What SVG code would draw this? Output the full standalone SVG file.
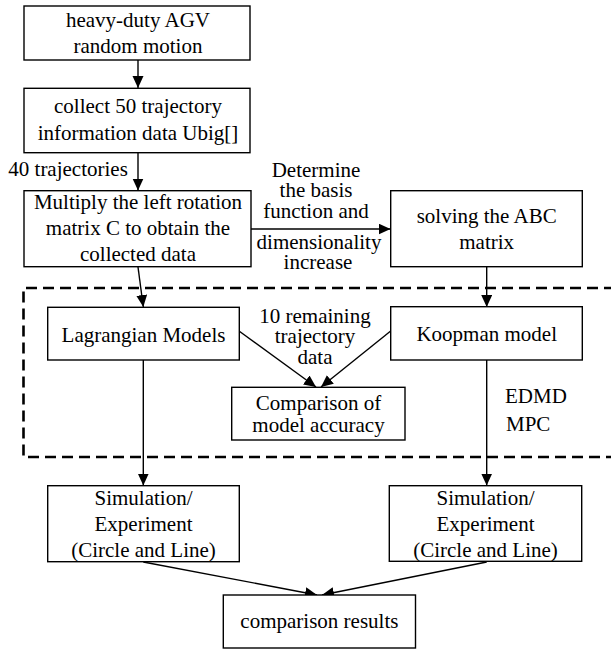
<svg xmlns="http://www.w3.org/2000/svg" width="611" height="650" viewBox="0 0 611 650">
<defs>
<marker id="arr" markerUnits="userSpaceOnUse" markerWidth="13" markerHeight="12" refX="12" refY="5.5" orient="auto">
<path d="M0,0 L12,5.5 L0,11 Z" fill="#000"/>
</marker>
</defs>
<style>
text{font-family:"Liberation Serif","Times New Roman",serif;font-size:21px;fill:#000}
.c{text-anchor:middle}
.box{fill:#fff;stroke:#000;stroke-width:1.4}
.ln{fill:none;stroke:#000;stroke-width:1.4}
.ar{fill:none;stroke:#000;stroke-width:1.4;marker-end:url(#arr)}
.dash{fill:none;stroke:#000;stroke-width:2.6;stroke-dasharray:11 6}
</style>
<rect width="611" height="650" fill="#fff"/>
<path class="dash" d="M615,288 H23.5 V457 H615"/>
<g id="connectors">
<line class="ar" x1="138" y1="60" x2="138" y2="88"/>
<line class="ar" x1="138" y1="153" x2="138" y2="190.5"/>
<line class="ar" x1="250" y1="229" x2="390.5" y2="229"/>
<line class="ar" x1="138" y1="267" x2="143.3" y2="307"/>
<line class="ar" x1="486.7" y1="267" x2="486.7" y2="307"/>
<line class="ar" x1="239" y1="331" x2="316" y2="387"/>
<line class="ar" x1="390.7" y1="331" x2="321" y2="387"/>
<line class="ar" x1="143.3" y1="360" x2="143.3" y2="485.5"/>
<line class="ar" x1="486.7" y1="360" x2="486.7" y2="485.5"/>
<line class="ar" x1="143.3" y1="562" x2="317" y2="595"/>
<line class="ar" x1="486.7" y1="562" x2="322" y2="595"/>
</g>
<g id="n1">
<rect class="box" x="24" y="6" width="226" height="54"/>
<text class="c" x="138" y="27.3">heavy-duty AGV</text>
<text class="c" x="138" y="53.3">random motion</text>
</g>
<g id="n2">
<rect class="box" x="24" y="88.3" width="226" height="64.4"/>
<text class="c" x="138" y="113.3">collect 50 trajectory</text>
<text class="c" x="138" y="140">information data Ubig[]</text>
</g>
<g id="l40">
<text x="8.3" y="176">40 trajectories</text>
</g>
<g id="n3">
<rect class="box" x="24" y="190.7" width="227" height="76"/>
<text class="c" x="138" y="209.3">Multiply the left rotation</text>
<text class="c" x="138" y="235">matrix C to obtain the</text>
<text class="c" x="138" y="260.7">collected data</text>
</g>
<g id="lbasis">
<text class="c" x="316" y="176.7">Determine</text>
<text class="c" x="316" y="196.7">the basis</text>
<text class="c" x="316" y="217.7">function and</text>
<text class="c" x="319" y="249.3">dimensionality</text>
<text class="c" x="318" y="269.3">increase</text>
</g>
<g id="n4">
<rect class="box" x="390.7" y="190.7" width="191.6" height="76"/>
<text class="c" x="486.7" y="223.3">solving the ABC</text>
<text class="c" x="486.7" y="248.7">matrix</text>
</g>
<g id="n5">
<rect class="box" x="47.7" y="307.3" width="191.6" height="52.7"/>
<text class="c" x="143.5" y="341.7">Lagrangian Models</text>
</g>
<g id="n6">
<rect class="box" x="390.7" y="306.7" width="191.6" height="53.3"/>
<text class="c" x="486.7" y="340.7">Koopman model</text>
</g>
<g id="l10">
<text class="c" x="315" y="322.7">10 remaining</text>
<text class="c" x="315" y="342.7">trajectory</text>
<text class="c" x="315" y="364">data</text>
</g>
<g id="n7">
<rect class="box" x="231.7" y="387.3" width="173.3" height="52.7"/>
<text class="c" x="318.5" y="410">Comparison of</text>
<text class="c" x="318.5" y="431.7">model accuracy</text>
</g>
<g id="ledmd">
<text x="505" y="402.7">EDMD</text>
<text x="506" y="430.7">MPC</text>
</g>
<g id="n8">
<rect class="box" x="47.7" y="485.7" width="191.6" height="76"/>
<text class="c" x="143.5" y="505">Simulation/</text>
<text class="c" x="143.5" y="531">Experiment</text>
<text class="c" x="143.5" y="556.7">(Circle and Line)</text>
</g>
<g id="n9">
<rect class="box" x="389.3" y="485.7" width="192.4" height="75.6"/>
<text class="c" x="485.5" y="505">Simulation/</text>
<text class="c" x="485.5" y="531">Experiment</text>
<text class="c" x="485.5" y="556.7">(Circle and Line)</text>
</g>
<g id="n10">
<rect class="box" x="223.3" y="595" width="192.2" height="53"/>
<text class="c" x="319.4" y="628">comparison results</text>
</g>
</svg>
